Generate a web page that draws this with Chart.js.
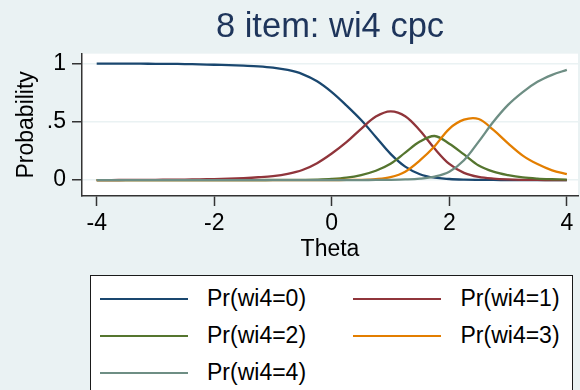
<!DOCTYPE html>
<html>
<head>
<meta charset="utf-8">
<script src="https://cdn.jsdelivr.net/npm/chart.js@4/dist/chart.umd.min.js"></script>
<style>
html, body { margin: 0; padding: 0; background: #eaf2f3; }
#wrap { position: relative; width: 580px; height: 390px; overflow: hidden; font-family: "Liberation Sans", Arial, sans-serif; }
#c { position: absolute; left: 0; top: 0; }
#legend { position: absolute; left: 90px; top: 275px; width: 483px; height: 140px; background: #fff; border: 1.5px solid #1a1a1a; box-sizing: border-box; }
.item { position: absolute; font-size: 23px; color: #000; line-height: 27px; white-space: nowrap; }
.swatch { position: absolute; height: 2px; }
</style>
</head>
<body>
<div id="wrap">
  <canvas id="c" width="580" height="390"></canvas>
  <div id="legend"></div>
</div>
<script>
// ---- data ----
const theta = [-4, -3.75, -3.5, -3.25, -3, -2.75, -2.5, -2.25, -2, -1.75, -1.5, -1.25, -1, -0.75, -0.5, -0.25,
               0, 0.25, 0.5, 0.75, 1, 1.25, 1.5, 1.75, 2, 2.25, 2.5, 2.75, 3, 3.25, 3.5, 3.75, 4];
const seriesLabels = ['Pr(wi4=0)', 'Pr(wi4=1)', 'Pr(wi4=2)', 'Pr(wi4=3)', 'Pr(wi4=4)'];
const prCat0 = [1.000, 1.000, 0.999, 0.999, 0.998, 0.997, 0.996, 0.993, 0.990, 0.987, 0.982, 0.976, 0.965, 0.945, 0.910, 0.848,
                0.755, 0.640, 0.515, 0.370, 0.225, 0.115, 0.050, 0.020, 0.009, 0.004, 0.002, 0.001, 0, 0, 0, 0, 0];
const prCat1 = [0, 0, 0.001, 0.001, 0.002, 0.003, 0.004, 0.006, 0.008, 0.012, 0.017, 0.024, 0.034, 0.053, 0.086, 0.145,
                0.228, 0.325, 0.440, 0.545, 0.590, 0.548, 0.425, 0.270, 0.138, 0.062, 0.027, 0.012, 0.005, 0.002, 0.001, 0, 0];
const prCat2 = [0, 0, 0, 0, 0, 0, 0, 0, 0, 0, 0, 0, 0.001, 0.001, 0.002, 0.004,
                0.009, 0.020, 0.043, 0.080, 0.140, 0.235, 0.330, 0.378, 0.312, 0.220, 0.125, 0.072, 0.042, 0.022, 0.012, 0.007, 0.004];
const prCat3 = [0, 0, 0, 0, 0, 0, 0, 0, 0, 0, 0, 0, 0, 0, 0, 0,
                0, 0.001, 0.002, 0.008, 0.025, 0.072, 0.168, 0.290, 0.440, 0.518, 0.524, 0.430, 0.315, 0.210, 0.137, 0.083, 0.050];
const prCat4 = [0, 0, 0, 0, 0, 0, 0, 0, 0, 0, 0, 0, 0, 0, 0, 0,
                0, 0, 0, 0.001, 0.002, 0.005, 0.012, 0.030, 0.072, 0.170, 0.330, 0.500, 0.645, 0.755, 0.843, 0.903, 0.946];
const xTicks = [-4, -2, 0, 2, 4];
const yTicks = [0, 0.5, 1];
const yTickLabels = ['0', '.5', '1'];

// ---- styles ----
const series = [prCat0, prCat1, prCat2, prCat3, prCat4];
const seriesColors = ['#1a476f', '#90353b', '#55752f', '#e37e00', '#6e8e84'];
const FONT = 'Liberation Sans';

const plotBg = {
  id: 'plotBg',
  beforeDraw(chart) {
    const {ctx, chartArea: a} = chart;
    ctx.save();
    ctx.fillStyle = '#ffffff';
    ctx.fillRect(a.left, a.top, a.right - a.left, a.bottom - a.top);
    ctx.restore();
  }
};

new Chart(document.getElementById('c').getContext('2d'), {
  type: 'line',
  data: {
    datasets: series.map((s, i) => ({
      label: seriesLabels[i],
      data: theta.map((t, j) => ({x: t, y: s[j]})),
      borderColor: seriesColors[i],
      borderWidth: 2.3,
      pointRadius: 0,
      tension: 0.35,
      fill: false,
      order: series.length - i
    }))
  },
  options: {
    responsive: false,
    animation: false,
    devicePixelRatio: 1,
    layout: {padding: {left: 0, right: 2, top: 0, bottom: 124}},
    plugins: {
      legend: {display: false},
      tooltip: {enabled: false},
      title: {
        display: true, text: '8 item: wi4 cpc', fullSize: false,
        color: '#1e355b', font: {family: FONT, size: 34.5, weight: 'normal', lineHeight: 1.15},
        padding: {top: 8, bottom: 6}
      }
    },
    scales: {
      x: {
        type: 'linear', min: -4.25, max: 4.19,
        afterBuildTicks: s => { s.ticks = xTicks.map(v => ({value: v})); },
        afterFit: s => { s.height = 70; },
        ticks: {color: '#000', font: {family: FONT, size: 23}, padding: 4, maxRotation: 0,
                callback: v => String(v)},
        grid: {drawOnChartArea: false, tickLength: 10, tickColor: '#333', tickWidth: 1.5},
        border: {display: true, color: '#333', width: 1.5},
        title: {display: true, text: 'Theta', color: '#000', font: {family: FONT, size: 23},
                padding: {top: 0, bottom: 3}}
      },
      y: {
        min: -0.137, max: 1.085,
        afterBuildTicks: s => { s.ticks = yTicks.map(v => ({value: v})); },
        afterFit: s => { s.width = 82; },
        ticks: {color: '#000', font: {family: FONT, size: 23}, padding: 6,
                callback: v => yTickLabels[yTicks.indexOf(v)]},
        grid: {color: '#eaf2f3', lineWidth: 1.5, tickLength: 10, tickColor: '#333', tickWidth: 1.5},
        border: {display: true, color: '#333', width: 1.5},
        title: {display: true, text: 'Probability', color: '#000', font: {family: FONT, size: 23},
                padding: {top: 13, bottom: 0}}
      }
    }
  },
  plugins: [plotBg]
});

// ---- legend (HTML) ----
const legend = document.getElementById('legend');
const colLine = [8.5, 261.5];
const colText = [116, 369.5];
const rowMid = [22.5, 59.5, 96.5];
seriesLabels.forEach((lab, i) => {
  const col = i % 2, row = Math.floor(i / 2);
  const sw = document.createElement('div');
  sw.className = 'swatch';
  sw.style.left = colLine[col] + 'px';
  sw.style.width = '88px';
  sw.style.top = (rowMid[row] - 1) + 'px';
  sw.style.background = seriesColors[i];
  legend.appendChild(sw);
  const tx = document.createElement('div');
  tx.className = 'item';
  tx.style.left = colText[col] + 'px';
  tx.style.top = (rowMid[row] - 13.5) + 'px';
  tx.textContent = lab;
  legend.appendChild(tx);
});
</script>
</body>
</html>
